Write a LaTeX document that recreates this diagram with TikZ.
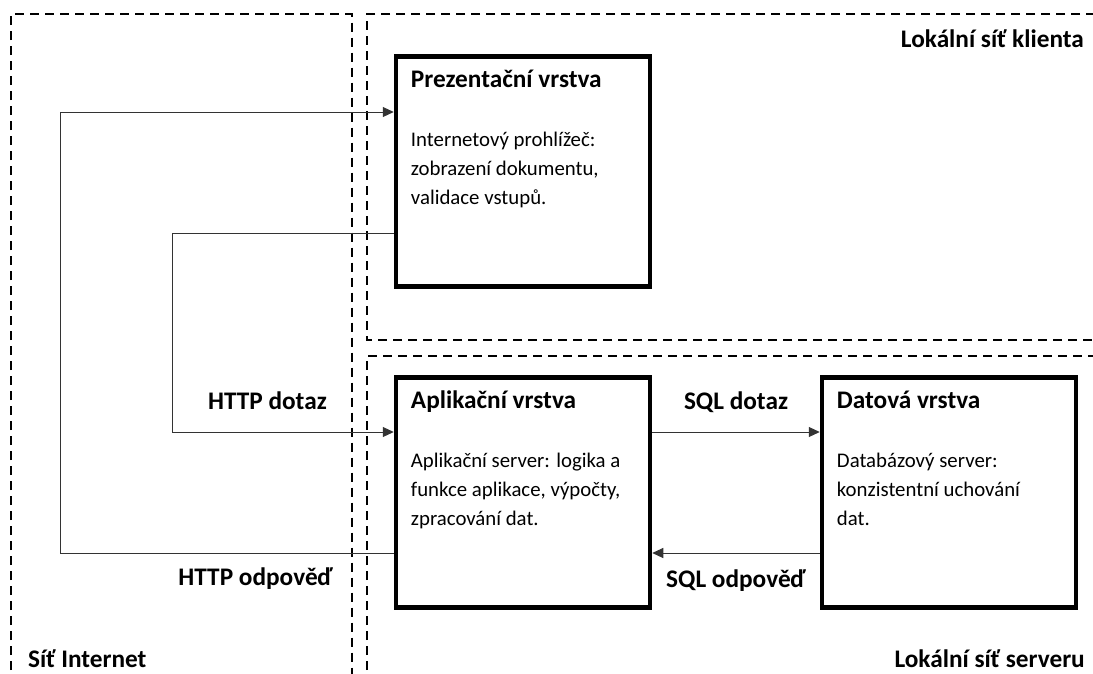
\documentclass[tikz,border=0pt]{standalone}
\usepackage{fontspec}
\setmainfont{Carlito}
\usetikzlibrary{arrows.meta}

\tikzset{
  zone/.style={draw=black, line width=2pt, dash pattern=on 9pt off 6pt},
  layer/.style={draw=black, line width=4.5pt, rectangle, minimum width=254pt, minimum height=230pt, inner sep=0pt},
  title/.style={font=\fontsize{25.3}{30}\selectfont\bfseries, inner sep=0pt},
  body/.style={font=\fontsize{20.8}{28.75}\selectfont, align=left, inner sep=0pt},
  lbl/.style={font=\fontsize{25.3}{30}\selectfont\bfseries, inner sep=0pt},
  conn/.style={draw=black!80, line width=1pt, -{Triangle[length=11pt,width=10pt]}}
}

\begin{document}
\begin{tikzpicture}[x=1pt, y=-1pt]
  \useasboundingbox (0,0) rectangle (1093,673);

  % network zones (dashed)
  \begin{scope}
    \clip (0,0) rectangle (1093,673);
    \draw[zone] (11,700) -- (11,14) -- (351.5,14) -- (351.5,700);
    \draw[zone] (367,700) -- (367,356) -- (1110,356);
    \draw[zone] (1110,14) -- (367,14) -- (367,340) -- (1110,340);
  \end{scope}

  % zone labels
  \node[lbl, anchor=base east] (lclient) at (1084,47) {Lokální síť klienta};
  \node[lbl, anchor=base east] (lserver) at (1085,667) {Lokální síť serveru};
  \node[lbl, anchor=base west] (linet) at (28,667) {Síť Internet};

  % layers
  \node[layer] (pres) at (523,171.5) {};
  \node[layer] (app) at (523,492.5) {};
  \node[layer] (data) at (949,492.5) {};

  % layer titles and descriptions
  \node[title, anchor=base west] (prest) at ([xshift=17pt,yshift=-33pt]pres.north west) {Prezentační vrstva};
  \node[body, anchor=base west] (presb) at ([xshift=17pt,yshift=-150pt]pres.north west)
    {Internetový prohlížeč:\\zobrazení dokumentu,\\validace vstupů.};

  \node[title, anchor=base west] (appt) at ([xshift=17pt,yshift=-33pt]app.north west) {Aplikační vrstva};
  \node[body, anchor=base west] (appb) at ([xshift=17pt,yshift=-150pt]app.north west)
    {Aplikační server: logika a\\funkce aplikace, výpočty,\\zpracování dat.};

  \node[title, anchor=base west] (datat) at ([xshift=17pt,yshift=-33pt]data.north west) {Datová vrstva};
  \node[body, anchor=base west] (datab) at ([xshift=17pt,yshift=-150pt]data.north west)
    {Databázový server:\\konzistentní uchování\\dat.};

  % routing corners
  \coordinate (turnA) at (60,112);
  \coordinate (turnB) at (172,432);

  % connectors
  \draw[conn] ([yshift=-61.5pt]pres.west) -| (turnB) -- ([yshift=60.5pt]app.west);
  \draw[conn] ([yshift=-60.5pt]app.west) -| (turnA) -- ([yshift=59.5pt]pres.west);
  \draw[conn] ([yshift=60.5pt]app.east) -- ([yshift=60.5pt]data.west);
  \draw[conn] ([yshift=-60.5pt]data.west) -- ([yshift=-60.5pt]app.east);

  % connector labels
  \node[lbl, anchor=base east] (lhttpq) at (327,409) {HTTP dotaz};
  \node[lbl, anchor=base east] (lhttpr) at (333,585) {HTTP odpověď};
  \node[lbl, anchor=base] (lsqlq) at (736,409) {SQL dotaz};
  \node[lbl, anchor=base] (lsqlr) at (736,587) {SQL odpověď};
\end{tikzpicture}
\end{document}
